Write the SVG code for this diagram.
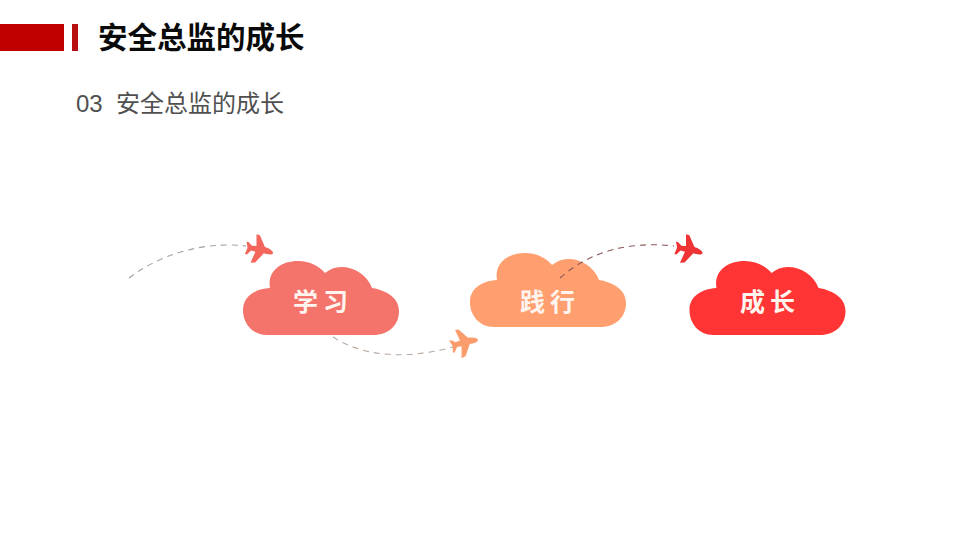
<svg xmlns="http://www.w3.org/2000/svg" width="960" height="540" viewBox="0 0 960 540">
<style>
.cjk{font-family:"Liberation Sans","Noto Sans CJK SC",sans-serif}
.title{font-size:29.500px;font-weight:700;fill:#0a0a0a}
.sub{font-size:24px;fill:#505050}
.lbl{font-size:25px;font-weight:700;fill:#fff4ee;letter-spacing:5px}
.dash{fill:none;stroke-width:1.100;stroke-dasharray:6 5}
</style>
<defs>
<path id="cloud" d="M24 74C9 74 0 62 0 49C0 36 11 28 27 27C24 11 37 0 55 0C67 0 76 5 82 12C87 8 92 6 98 6C112 6 124 14 129 27C146 30 156 38 156 50C156 64 146 74 130 74Z"/>
<path id="plane" d="M14 1.500C14 3.800 9 4 5 3.500L-2 14L-6.500 15L-3.500 3.500L-8 3L-11.500 7.500L-13.500 7.500L-12 0.800L-14 -5L-12 -5L-8 -2L-3.500 -2.500L-5.500 -14L-2 -13.500L5 -3C9 -2.500 14 -0.500 14 1.500Z"/>
</defs>
<rect width="960" height="540" fill="#fff"/>
<g id="header">
<rect x="0" y="24" width="64" height="27" fill="#c00000"/>
<rect x="72" y="24" width="6" height="27" fill="#b81010"/>
<text class="cjk title" x="98" y="48">安全总监的成长</text>
<text class="cjk sub" x="76" y="112" xml:space="preserve">03  安全总监的成长</text>
</g>
<g id="node-xuexi">
<use href="#cloud" x="243" y="261" fill="#f4736a"/>
<text class="cjk lbl" x="293" y="311">学习</text>
</g>
<g id="node-jianxing">
<use href="#cloud" x="470" y="253" fill="#ff9e6e"/>
<text class="cjk lbl" x="520" y="311">践行</text>
</g>
<g id="node-chengzhang">
<use href="#cloud" x="689.500" y="261" fill="#ff3434"/>
<text class="cjk lbl" x="740" y="311">成长</text>
</g>
<g id="connectors">
<path class="dash" stroke="#a8a09c" d="M129 278C160 254 205 241 246 246"/>
<path class="dash" stroke="#b8a89e" d="M333 337C365 358 410 359 453 347"/>
<path class="dash" stroke="#8a5a58" d="M560 278C590 251 630 241 674 246"/>
</g>
<g id="plane-1"><use href="#plane" transform="translate(259.500 249) rotate(10)" fill="#f4665c"/></g>
<g id="plane-2"><use href="#plane" transform="translate(464 342) rotate(-15)" fill="#fb9c6c"/></g>
<g id="plane-3"><use href="#plane" transform="translate(689 249) rotate(10)" fill="#ee3434"/></g>
</svg>
